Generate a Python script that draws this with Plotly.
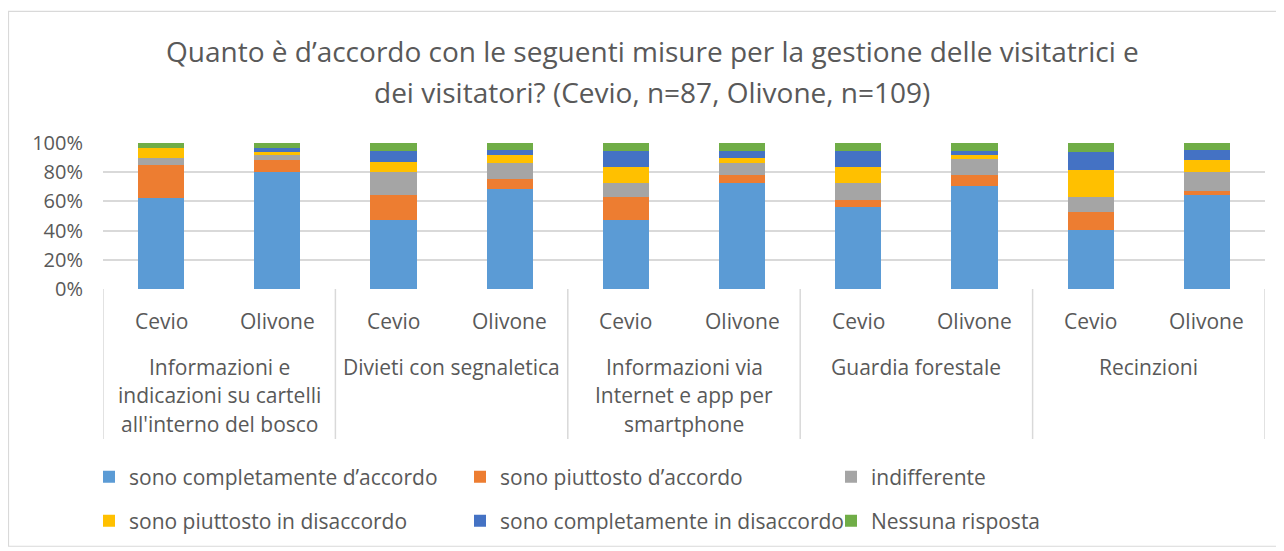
import plotly.graph_objects as go

# ---- data (percent) ----
groups = [
    ["Informazioni e", "indicazioni su cartelli", "all'interno del bosco"],
    ["Divieti con segnaletica"],
    ["Informazioni via", "Internet e app per", "smartphone"],
    ["Guardia forestale"],
    ["Recinzioni"],
]
sites = ["Cevio", "Olivone"]
series_names = [
    "sono completamente d’accordo",
    "sono piuttosto d’accordo",
    "indifferente",
    "sono piuttosto in disaccordo",
    "sono completamente in disaccordo",
    "Nessuna risposta",
]
colors = ["#5B9BD5", "#ED7D31", "#A5A5A5", "#FFC000", "#4472C4", "#70AD47"]

# order: G1 Cevio, G1 Olivone, G2 Cevio, ... G5 Olivone
completamente_accordo = [62.1, 79.8, 47.1, 68.8, 47.1, 72.5, 56.3, 70.6, 40.2, 64.2]
piuttosto_accordo     = [23.0, 8.3, 17.2, 6.4, 16.1, 5.5, 4.6, 7.3, 12.6, 2.8]
indifferente          = [4.6, 3.7, 16.1, 11.0, 9.2, 8.3, 11.5, 11.0, 10.3, 12.8]
piuttosto_disaccordo  = [6.9, 1.8, 6.9, 5.5, 11.5, 3.7, 11.5, 2.8, 18.4, 8.3]
completamente_disacc  = [0.0, 2.8, 6.9, 3.7, 10.3, 4.6, 10.3, 2.8, 12.6, 7.3]
nessuna_risposta      = [3.4, 3.7, 5.7, 4.6, 5.7, 5.5, 5.7, 5.5, 5.7, 4.6]

values = [completamente_accordo, piuttosto_accordo, indifferente,
          piuttosto_disaccordo, completamente_disacc, nessuna_risposta]

categories = [f"{g[0]}|{s}" for g in groups for s in sites]

FONT = "Open Sans"
TXT = "#595959"
GRID = "#D9D9D9"

# page has an 8px body margin; work in page pixels and convert
OFF = 8
W, H = 1284 - OFF, 551 - OFF
PL, PR, PT, PB = 103, 1265, 143, 290          # plot area in page pixels
L, R, T, B = PL - OFF, W - (PR - OFF), PT - OFF, H - (PB - OFF)


def py(p):
    return (PB - p) / (PB - PT)


def px(p):
    return (p - PL) / (PR - PL)


fig = go.Figure()
for i, (name, vals) in enumerate(zip(series_names, values)):
    fig.add_trace(go.Bar(
        x=categories, y=[v / 100 for v in vals], name=name,
        marker=dict(color=colors[i], line=dict(width=0)),
        legend="legend" if i < 3 else "legend2",
    ))

LBL = 21
annotations = []
for c, cat in enumerate(categories):
    annotations.append(dict(x=c, y=py(322), xref="x", yref="paper", text=cat.split("|")[1],
                            showarrow=False, font=dict(family=FONT, size=LBL, color=TXT),
                            xanchor="center", yanchor="middle"))
line_y = [369, 397, 426]
for gi, g in enumerate(groups):
    for li, line in enumerate(g):
        annotations.append(dict(x=2 * gi + 0.5, y=py(line_y[li]), xref="x", yref="paper",
                                text=line, showarrow=False,
                                font=dict(family=FONT, size=LBL, color=TXT),
                                xanchor="center", yanchor="middle"))
annotations.append(dict(x=px(652), y=py(50), xref="paper", yref="paper",
                        text="Quanto è d’accordo con le seguenti misure per la gestione delle visitatrici e",
                        showarrow=False, font=dict(family=FONT, size=28, color=TXT),
                        xanchor="center", yanchor="middle"))
annotations.append(dict(x=px(652), y=py(92), xref="paper", yref="paper",
                        text="dei visitatori? (Cevio, n=87, Olivone, n=109)",
                        showarrow=False, font=dict(family=FONT, size=28, color=TXT),
                        xanchor="center", yanchor="middle"))

shapes = []
for k in range(len(groups) + 1):
    shapes.append(dict(type="line", xref="x", yref="paper", x0=2 * k - 0.5, x1=2 * k - 0.5,
                       y0=0, y1=py(441), line=dict(color=GRID, width=1.5)))
shapes.append(dict(type="rect", xref="paper", yref="paper", x0=px(8.5), x1=px(1280),
                   y0=py(10.5), y1=py(549), line=dict(color=GRID, width=1.2), layer="below"))

legend_common = dict(orientation="h", font=dict(family=FONT, size=LBL, color=TXT),
                     xanchor="left", yanchor="middle", entrywidth=326, entrywidthmode="pixels",
                     bgcolor="rgba(0,0,0,0)", itemclick=False, traceorder="normal")

fig.update_layout(
    width=W, height=H,
    margin=dict(l=L, r=R, t=T, b=B),
    barmode="stack", bargap=0.604,
    paper_bgcolor="white", plot_bgcolor="white",
    font=dict(family=FONT, color=TXT),
    showlegend=True,
    legend=dict(x=px(89), y=py(477), **legend_common),
    legend2=dict(x=px(89), y=py(521), **legend_common),
    annotations=annotations, shapes=shapes,
    xaxis=dict(type="category", categoryorder="array", categoryarray=categories,
               showticklabels=False, showgrid=False, zeroline=False,
               showline=False, range=[-0.5, 9.5]),
    yaxis=dict(range=[0, 1], dtick=0.2, tickformat=".0%", showgrid=True, gridcolor=GRID,
               gridwidth=1.5, zeroline=False, showline=False,
               tickfont=dict(family=FONT, size=20, color=TXT), ticklabelstandoff=19),
)

fig.write_html("out.html")
